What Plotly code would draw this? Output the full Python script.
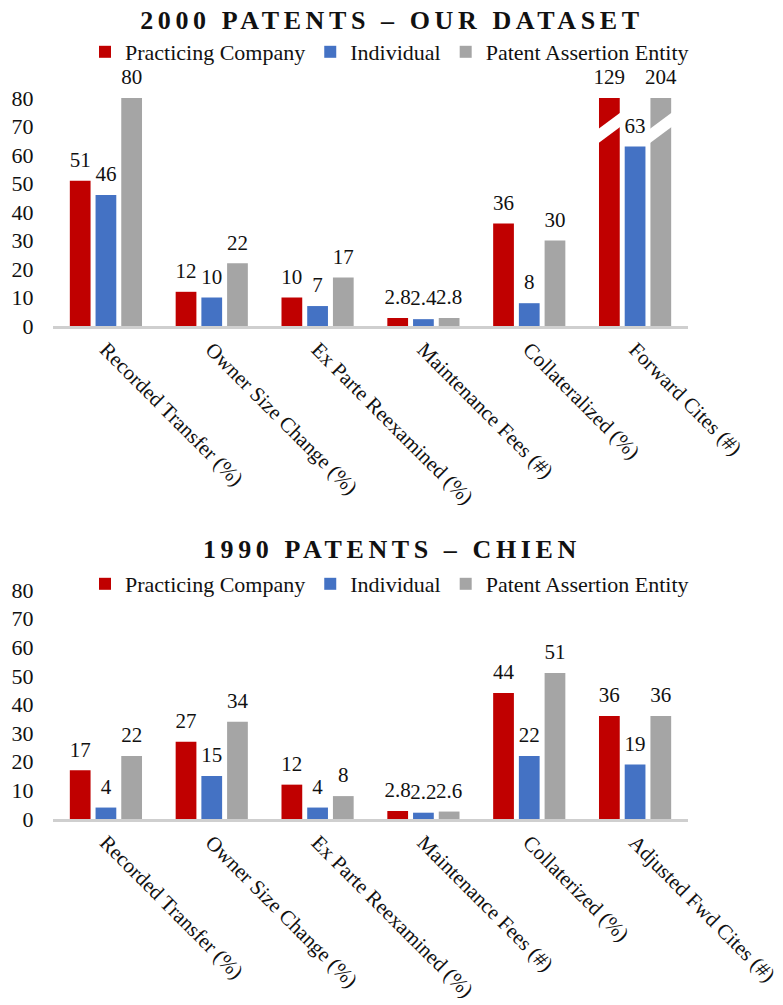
import plotly.graph_objects as go

# ---- data -------------------------------------------------------------
SERIES = ["Practicing Company", "Individual", "Patent Assertion Entity"]

CATS_2000 = ["Recorded Transfer (%)", "Owner Size Change (%)", "Ex Parte Reexamined (%)",
             "Maintenance Fees (#)", "Collateralized (%)", "Forward Cites (#)"]
PC_2000 = [51, 12, 10, 2.8, 36, 129]
IND_2000 = [46, 10, 7, 2.4, 8, 63]
PAE_2000 = [80, 22, 17, 2.8, 30, 204]

CATS_1990 = ["Recorded Transfer (%)", "Owner Size Change (%)", "Ex Parte Reexamined (%)",
             "Maintenance Fees (#)", "Collaterized (%)", "Adjusted Fwd Cites (#)"]
PC_1990 = [17, 27, 12, 2.8, 44, 36]
IND_1990 = [4, 15, 4, 2.2, 22, 19]
PAE_1990 = [22, 34, 8, 2.6, 51, 36]

Y_TICKS = [0, 10, 20, 30, 40, 50, 60, 70, 80]
TITLES = ["2000 PATENTS – OUR DATASET", "1990 PATENTS – CHIEN"]

# ---- style ------------------------------------------------------------
COLORS = ["#C00000", "#4472C4", "#A5A5A5"]
FONT = "Liberation Serif, Times New Roman, serif"
TEXT_COLOR = "#111111"
W, H = 783, 1005
Y_MAX = Y_TICKS[-1]
SLOT = 0.243        # distance between neighbouring bars of a group (category units)
BAR_W = 0.196       # bar width (category units)
BREAK_MID = 69.5    # where the axis-break slash crosses an over-range bar
BREAK_RISE = 6.0    # slash rise across one bar (value units)
BREAK_THICK = 5.0   # slash vertical thickness (value units)

X_DOMAIN = [53 / W, 688 / W]
PANELS = [
    dict(cats=CATS_2000, vals=[PC_2000, IND_2000, PAE_2000], top=98, bottom=326,
         title_y=20, legend_y=52),
    dict(cats=CATS_1990, vals=[PC_1990, IND_1990, PAE_1990], top=590, bottom=819,
         title_y=549, legend_y=584),
]


def fmt(v):
    return f"{v:g}"


fig = go.Figure()
shapes = []
annotations = []

for p_idx, panel in enumerate(PANELS):
    sfx = "" if p_idx == 0 else str(p_idx + 1)
    xa, ya = "x" + sfx, "y" + sfx
    legend_name = "legend" + sfx
    xs = list(range(len(panel["cats"])))

    for k, (name, vals) in enumerate(zip(SERIES, panel["vals"])):
        shift = (k - 1) * SLOT
        fig.add_trace(go.Bar(
            x=xs, y=vals, name=name, width=BAR_W, offset=shift - BAR_W / 2,
            marker=dict(color=COLORS[k], line=dict(width=0)),
            xaxis=xa, yaxis=ya, legend=legend_name, cliponaxis=True,
            hoverinfo="skip",
        ))
        # value labels sit on top of the (possibly truncated) bars
        fig.add_trace(go.Scatter(
            x=[x + shift for x in xs], y=[min(v, Y_MAX) for v in vals],
            mode="markers+text", text=[fmt(v) for v in vals],
            textposition="top center",
            textfont=dict(family=FONT, size=21, color=TEXT_COLOR),
            marker=dict(size=12, opacity=0),
            xaxis=xa, yaxis=ya, showlegend=False, cliponaxis=False,
            hoverinfo="skip",
        ))
        # white slash marking an axis break on bars above the axis maximum
        for x, v in zip(xs, vals):
            if v > Y_MAX:
                x0 = x + shift - BAR_W / 2 - 0.01
                x1 = x + shift + BAR_W / 2 + 0.01
                y0 = BREAK_MID - BREAK_RISE / 2 - BREAK_THICK / 2
                y1 = BREAK_MID + BREAK_RISE / 2 - BREAK_THICK / 2
                path = (f"M{x0},{y0} L{x1},{y1} L{x1},{y1 + BREAK_THICK} "
                        f"L{x0},{y0 + BREAK_THICK} Z")
                shapes.append(dict(type="path", path=path, xref=xa, yref=ya,
                                   fillcolor="white", line=dict(width=0),
                                   layer="above"))

    axis_x = dict(
        domain=X_DOMAIN, anchor=ya, range=[-0.5, len(xs) - 0.5],
        tickmode="array", tickvals=xs, ticktext=panel["cats"], tickangle=45,
        tickfont=dict(family=FONT, size=21, color=TEXT_COLOR),
        showline=True, linecolor="#CFCFCF", linewidth=3, showgrid=False,
        zeroline=False, ticks="", automargin=False, ticklabeloverflow="allow",
    )
    axis_y = dict(
        domain=[1 - panel["bottom"] / H, 1 - panel["top"] / H], anchor=xa,
        range=[0, Y_MAX], tickmode="array", tickvals=Y_TICKS,
        tickfont=dict(family=FONT, size=22, color=TEXT_COLOR),
        showgrid=False, zeroline=False, showline=False,
        ticks="outside", ticklen=14, tickcolor="rgba(0,0,0,0)", automargin=False,
    )
    fig.layout["xaxis" + sfx] = axis_x
    fig.layout["yaxis" + sfx] = axis_y

    fig.layout[legend_name] = dict(
        orientation="h", x=85 / W, xanchor="left",
        y=1 - panel["legend_y"] / H, yanchor="middle",
        font=dict(family=FONT, size=22, color=TEXT_COLOR),
        bgcolor="rgba(0,0,0,0)", borderwidth=0, itemclick=False,
    )

    annotations.append(dict(
        text=f"<b>{TITLES[p_idx]}</b>", xref="paper", yref="paper",
        x=0.5, y=1 - panel["title_y"] / H, xanchor="center", yanchor="middle",
        showarrow=False, font=dict(family=FONT, size=26, color=TEXT_COLOR),
    ))

fig.update_layout(
    template="none",
    width=W, height=H, margin=dict(l=0, r=0, t=0, b=0, autoexpand=False),
    paper_bgcolor="white", plot_bgcolor="white",
    barmode="overlay", shapes=shapes, annotations=annotations,
    font=dict(family=FONT, color=TEXT_COLOR),
)

# widen the letter spacing of the panel titles
title_spacing = """
document.querySelectorAll('.annotation-text').forEach(function (t) {
  t.style.letterSpacing = '4.6px';
});
"""

fig.write_html("out.html", post_script=title_spacing)
